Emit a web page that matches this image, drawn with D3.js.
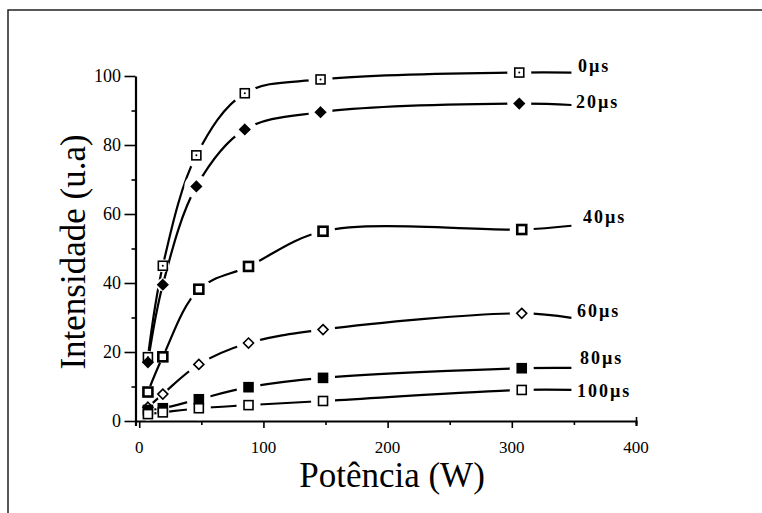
<!DOCTYPE html>
<html>
<head>
<meta charset="utf-8">
<script src="https://cdn.jsdelivr.net/npm/d3@7"></script>
<style>
  body { margin: 0; background: #fff; }
  svg text { font-family: "Liberation Serif", "Times New Roman", Times, serif; }
</style>
</head>
<body>
<svg id="chart" width="762" height="513"></svg>
<script>
// values
const powerTop = [7, 19, 46, 85, 146, 306];
const powerLow = [7, 19, 48, 88, 148, 308];
const curveEndPower = 348;

const int0 = [18.5, 45, 77, 95, 99, 101];
const int20 = [17, 39.5, 68, 84.5, 89.5, 92];
const int40 = [8.4, 18.6, 38.2, 44.8, 55, 55.5];
const int60 = [4, 7.8, 16.4, 22.6, 26.5, 31.2];
const int80 = [3.2, 3.7, 6.3, 9.8, 12.5, 15.3];
const int100 = [2, 2.5, 3.7, 4.6, 5.8, 9];

const endValues = [101, 91.6, 56.6, 29.9, 15.4, 9];
const seriesNames = ["0\u00b5s", "20\u00b5s", "40\u00b5s", "60\u00b5s", "80\u00b5s", "100\u00b5s"];
const labelAt = [[578, 72], [576, 108], [583, 223], [577, 317], [580, 364], [577, 397]];

const xTicks = [0, 50, 100, 150, 200, 250, 300, 350, 400];
const xTickLabels = [0, 100, 200, 300, 400];
const yTicks = [0, 10, 20, 30, 40, 50, 60, 70, 80, 90, 100];
const yTickLabels = [0, 20, 40, 60, 80, 100];

const series = [
    {name: seriesNames[0], x: powerTop, y: int0, end: endValues[0], marker: "squareDot"},
    {name: seriesNames[1], x: powerTop, y: int20, end: endValues[1], marker: "diamondFill"},
    {name: seriesNames[2], x: powerLow, y: int40, end: endValues[2], marker: "squareBold"},
    {name: seriesNames[3], x: powerLow, y: int60, end: endValues[3], marker: "diamondOpen"},
    {name: seriesNames[4], x: powerLow, y: int80, end: endValues[4], marker: "squareFill"},
    {name: seriesNames[5], x: powerLow, y: int100, end: endValues[5], marker: "squareOpen"}
];

const serif = "'Liberation Serif', 'Times New Roman', Times, serif";
const svg = d3.select("#chart");

// outer frame of the scanned figure
svg.append("rect")
    .attr("x", 8).attr("y", 10)
    .attr("width", 780).attr("height", 530)
    .attr("fill", "none")
    .attr("stroke", "#222")
    .attr("stroke-width", 1.5);

const xScale = d3.scaleLinear().domain([-3, 400]).range([135.5, 636]);
const yScale = d3.scaleLinear().domain([0, 100]).range([421, 76]);

// x axis
const xAxis = svg.append("g")
    .attr("transform", `translate(0, ${yScale(0)})`)
    .call(d3.axisBottom(xScale).tickValues(xTicks).tickSizeOuter(0)
        .tickSize(5).tickFormat(""));
xAxis.select(".domain").attr("stroke-width", 2.2);
xAxis.selectAll(".tick line").attr("stroke-width", 1.6)
    .attr("y2", d => d % 100 === 0 ? 7 : 4);
xAxis.selectAll(".tick").filter(d => d === 400).select("line")
    .attr("y1", -4).attr("y2", 3);

svg.append("g").selectAll("text")
    .data(xTickLabels)
    .join("text")
    .attr("x", d => xScale(d))
    .attr("y", 453)
    .attr("text-anchor", "middle")
    .attr("font-family", serif)
    .attr("font-size", 17)
    .text(d => d);

// y axis
const yAxis = svg.append("g")
    .attr("transform", `translate(${xScale(-3)}, 0)`)
    .call(d3.axisLeft(yScale).tickValues(yTicks).tickSizeOuter(0).tickFormat(""));
yAxis.select(".domain").attr("stroke-width", 2.2);
yAxis.selectAll(".tick line").attr("stroke-width", 1.6)
    .attr("x2", d => d % 20 === 0 ? -11 : -4);

svg.append("g").selectAll("text")
    .data(yTickLabels)
    .join("text")
    .attr("x", 121)
    .attr("y", d => yScale(d) + 6)
    .attr("text-anchor", "end")
    .attr("font-family", serif)
    .attr("font-size", 18)
    .text(d => d);

// axis titles
svg.append("text")
    .attr("x", 392).attr("y", 487)
    .attr("text-anchor", "middle")
    .attr("font-family", serif)
    .attr("font-size", 35)
    .text("Potência (W)");

svg.append("text")
    .attr("transform", "translate(85, 252) rotate(-90)")
    .attr("text-anchor", "middle")
    .attr("font-family", serif)
    .attr("font-size", 35)
    .text("Intensidade (u.a)");

// curves
const line = d3.line()
    .x(d => xScale(d[0]))
    .y(d => yScale(d[1]))
    .curve(d3.curveCatmullRom.alpha(0.5));

const plot = svg.append("g");
series.forEach(s => {
    const pts = s.x.map((p, i) => [p, s.y[i]]);
    pts.push([curveEndPower, s.end]);
    plot.append("path")
        .attr("d", line(pts))
        .attr("fill", "none")
        .attr("stroke", "#000")
        .attr("stroke-width", 2.2);
});

// white gaps where the curves stop short of each marker
series.forEach(s => {
    plot.append("g").selectAll("circle")
        .data(s.x.map((p, i) => [p, s.y[i]]))
        .join("circle")
        .attr("cx", d => xScale(d[0]))
        .attr("cy", d => yScale(d[1]))
        .attr("r", d => d[0] < 30 ? 6.5 : 12)
        .attr("fill", "#fff");
});

function drawMarker(g, type, cx, cy) {
    if (type.startsWith("square")) {
        const size = 9;
        g.append("rect")
            .attr("x", cx - size / 2).attr("y", cy - size / 2)
            .attr("width", size).attr("height", size)
            .attr("fill", type === "squareFill" ? "#000" : "#fff")
            .attr("stroke", "#000")
            .attr("stroke-width", type === "squareBold" ? 2.6 : 1.6);
        if (type === "squareDot") {
            g.append("circle").attr("cx", cx).attr("cy", cy).attr("r", 1).attr("fill", "#000");
        }
    } else {
        const r = 5;
        g.append("path")
            .attr("d", `M${cx},${cy - r}L${cx + r},${cy}L${cx},${cy + r}L${cx - r},${cy}Z`)
            .attr("fill", type === "diamondFill" ? "#000" : "#fff")
            .attr("stroke", "#000")
            .attr("stroke-width", 1.6);
    }
}

series.forEach(s => {
    const g = plot.append("g");
    s.x.forEach((p, i) => drawMarker(g, s.marker, xScale(p), yScale(s.y[i])));
});

// series labels
svg.append("g").selectAll("text")
    .data(series)
    .join("text")
    .attr("x", (d, i) => labelAt[i][0])
    .attr("y", (d, i) => labelAt[i][1])
    .attr("font-family", serif)
    .attr("font-size", 18)
    .attr("font-weight", "bold")
    .attr("letter-spacing", 2)
    .text(d => d.name);
</script>
</body>
</html>
